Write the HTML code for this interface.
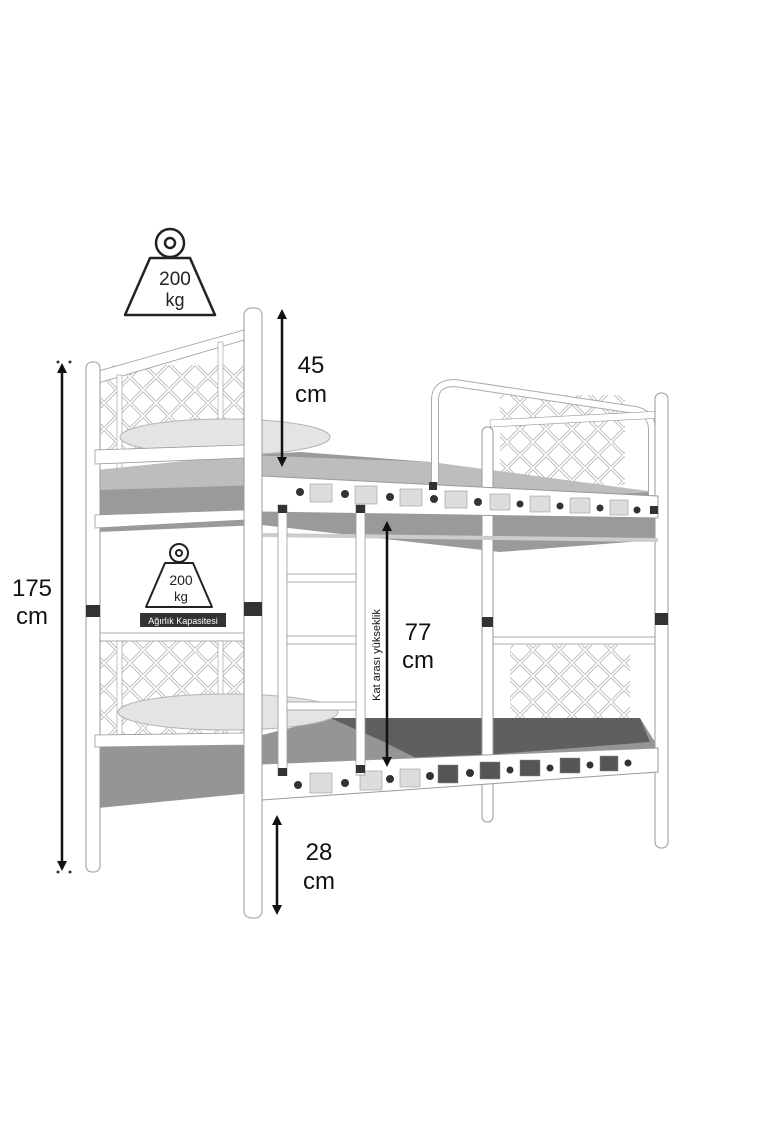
<!DOCTYPE html>
<html><head><meta charset="utf-8"><style>
html,body{margin:0;padding:0;background:#fff;}
svg{display:block;font-family:"Liberation Sans",sans-serif;}
</style></head><body>
<svg width="760" height="1140" viewBox="0 0 760 1140" xmlns="http://www.w3.org/2000/svg">
<defs>
<marker id="ah" markerWidth="10" markerHeight="10" refX="5" refY="5" orient="auto-start-reverse" markerUnits="userSpaceOnUse"><path d="M0,0 L10,5 L0,10 z" fill="#111"/></marker>
<pattern id="lat" width="26" height="26" patternUnits="userSpaceOnUse"><path d="M0,13 L13,0 L26,13 L13,26 z" fill="none" stroke="#aaa" stroke-width="3.2"/><path d="M0,13 L13,0 L26,13 L13,26 z" fill="none" stroke="#fff" stroke-width="1.8"/></pattern>
</defs>

<!-- big weight icon -->
<g fill="none" stroke="#222" stroke-width="2.5">
<circle cx="170" cy="243" r="14"/><circle cx="170" cy="243" r="5"/>
<path d="M150,258 L190,258 L215,315 L125,315 Z" stroke-linejoin="round"/>
</g>
<text x="175" y="285" font-size="19" text-anchor="middle" fill="#222">200</text>
<text x="175" y="306" font-size="18" text-anchor="middle" fill="#222">kg</text>

<!-- left upper headboard -->
<rect x="100" y="365" width="144" height="90" fill="url(#lat)"/>
<polygon points="95,372 244,330 244,340 95,384" fill="#fff" stroke="#999" stroke-width="0.8"/>
<rect x="117" y="375" width="5" height="95" fill="#fff" stroke="#999" stroke-width="0.6"/>
<rect x="218" y="342" width="5" height="105" fill="#fff" stroke="#999" stroke-width="0.6"/>
<!-- left lower headboard -->
<rect x="100" y="640" width="144" height="100" fill="url(#lat)"/>
<rect x="95" y="633" width="150" height="8" fill="#fff" stroke="#999" stroke-width="0.8"/>
<rect x="117" y="641" width="5" height="100" fill="#fff" stroke="#999" stroke-width="0.6"/>
<rect x="218" y="641" width="5" height="100" fill="#fff" stroke="#999" stroke-width="0.6"/>
<!-- right upper headboard -->
<rect x="500" y="395" width="125" height="90" fill="url(#lat)"/>
<!-- right lower headboard -->
<rect x="510" y="645" width="120" height="75" fill="url(#lat)"/>

<!-- upper mattress -->
<polygon points="98,470 244,455 300,452 430,462 655,492 655,540 500,552 262,525 98,532" fill="#9a9a9a"/>
<polygon points="98,470 244,455 430,462 655,492 500,500 262,485 98,490" fill="#bdbdbd"/>
<ellipse cx="225" cy="437" rx="105" ry="18" fill="#e4e4e4" stroke="#b5b5b5"/>
<!-- lower mattress -->
<polygon points="98,740 262,735 330,718 640,718 655,742 655,770 262,792 98,808" fill="#959595"/>
<polygon points="330,718 640,718 650,742 420,760 380,740" fill="#5f5f5f"/>
<ellipse cx="228" cy="712" rx="110" ry="18" fill="#e4e4e4" stroke="#b5b5b5"/>

<!-- right upper headboard frame -->
<path d="M435,482 L435,400 Q435,383 455,383 L635,410 Q652,413 652,430 L652,500" fill="none" stroke="#aaa" stroke-width="8"/>
<path d="M435,482 L435,400 Q435,383 455,383 L635,410 Q652,413 652,430 L652,500" fill="none" stroke="#fff" stroke-width="6"/>
<rect x="490" y="420" width="165" height="7" fill="#fff" stroke="#999" stroke-width="0.6" transform="rotate(-3 490 420)"/>
<rect x="490" y="637" width="167" height="7" fill="#fff" stroke="#999" stroke-width="0.8"/>

<!-- posts -->
<g fill="#fff" stroke="#999" stroke-width="1">
<rect x="86" y="362" width="14" height="510" rx="6"/>
<rect x="482" y="427" width="11" height="395" rx="5"/>
<rect x="655" y="393" width="13" height="455" rx="6"/>
<rect x="244" y="308" width="18" height="610" rx="7"/>
</g>
<g fill="#333"><rect x="86" y="605" width="14" height="12"/><rect x="244" y="602" width="18" height="14"/><rect x="482" y="617" width="11" height="10"/><rect x="655" y="613" width="13" height="12"/></g>

<!-- upper side rail -->
<polygon points="95,450 244,445 244,458 95,464" fill="#fff" stroke="#999" stroke-width="0.8"/>
<polygon points="95,515 244,510 244,520 95,528" fill="#fff" stroke="#999" stroke-width="0.8"/>
<!-- upper front rail -->
<polygon points="262,476 658,496 658,518 262,512" fill="#fff" stroke="#999" stroke-width="1"/>
<g fill="#ddd" stroke="#888" stroke-width="0.5">
<rect x="310" y="484" width="22" height="18"/><rect x="355" y="486" width="22" height="18"/><rect x="400" y="489" width="22" height="17"/><rect x="445" y="491" width="22" height="17"/><rect x="490" y="494" width="20" height="16"/><rect x="530" y="496" width="20" height="16"/><rect x="570" y="498" width="20" height="15"/><rect x="610" y="500" width="18" height="15"/>
</g>
<g fill="#333"><circle cx="300" cy="492" r="4"/><circle cx="345" cy="494" r="4"/><circle cx="390" cy="497" r="4"/><circle cx="434" cy="499" r="4"/><circle cx="478" cy="502" r="4"/><circle cx="520" cy="504" r="3.5"/><circle cx="560" cy="506" r="3.5"/><circle cx="600" cy="508" r="3.5"/><circle cx="637" cy="510" r="3.5"/></g>
<line x1="262" y1="535" x2="658" y2="540" stroke="#ccc" stroke-width="4"/>

<!-- lower side rail -->
<polygon points="95,735 244,733 244,745 95,747" fill="#fff" stroke="#999" stroke-width="0.8"/>
<!-- lower front rail -->
<polygon points="262,764 658,748 658,772 262,800" fill="#fff" stroke="#999" stroke-width="1"/>
<g fill="#555" stroke="#888" stroke-width="0.5">
<rect x="438" y="765" width="20" height="18"/><rect x="480" y="762" width="20" height="17"/><rect x="520" y="760" width="20" height="16"/><rect x="560" y="758" width="20" height="15"/><rect x="600" y="756" width="18" height="15"/>
</g>
<g fill="#ddd" stroke="#888" stroke-width="0.5"><rect x="310" y="773" width="22" height="20"/><rect x="360" y="771" width="22" height="19"/><rect x="400" y="769" width="20" height="18"/></g>
<g fill="#333"><circle cx="298" cy="785" r="4"/><circle cx="345" cy="783" r="4"/><circle cx="390" cy="779" r="4"/><circle cx="430" cy="776" r="4"/><circle cx="470" cy="773" r="4"/><circle cx="510" cy="770" r="3.5"/><circle cx="550" cy="768" r="3.5"/><circle cx="590" cy="765" r="3.5"/><circle cx="628" cy="763" r="3.5"/></g>

<!-- ladder -->
<g fill="#fff" stroke="#999" stroke-width="0.8">
<rect x="278" y="505" width="9" height="270"/><rect x="356" y="505" width="9" height="270"/>
<rect x="287" y="574" width="69" height="8"/><rect x="287" y="636" width="69" height="8"/><rect x="287" y="702" width="69" height="8"/>
</g>
<g fill="#333"><rect x="278" y="505" width="9" height="8"/><rect x="356" y="505" width="9" height="8"/><rect x="278" y="768" width="9" height="8"/><rect x="356" y="765" width="9" height="8"/><rect x="429" y="482" width="8" height="8"/><rect x="650" y="506" width="8" height="8"/></g>

<!-- small weight icon -->
<g fill="none" stroke="#222" stroke-width="2">
<circle cx="179" cy="553" r="9"/><circle cx="179" cy="553" r="3"/>
<path d="M165,563 L193,563 L212,607 L146,607 Z" stroke-linejoin="round"/>
</g>
<text x="181" y="585" font-size="14" text-anchor="middle" fill="#222">200</text>
<text x="181" y="601" font-size="13" text-anchor="middle" fill="#222">kg</text>
<rect x="140" y="613" width="86" height="14" fill="#333"/>
<text x="183" y="624" font-size="9" text-anchor="middle" fill="#fff">Ağırlık Kapasitesi</text>

<!-- dimension arrows -->
<g stroke="#111" stroke-width="2.5">
<line x1="62" y1="368" x2="62" y2="866" marker-start="url(#ah)" marker-end="url(#ah)"/>
<line x1="282" y1="314" x2="282" y2="462" marker-start="url(#ah)" marker-end="url(#ah)"/>
<line x1="387" y1="526" x2="387" y2="762" marker-start="url(#ah)" marker-end="url(#ah)"/>
<line x1="277" y1="820" x2="277" y2="910" marker-start="url(#ah)" marker-end="url(#ah)"/>
</g>
<g fill="#333"><circle cx="58" cy="362" r="1.5"/><circle cx="70" cy="362" r="1.5"/><circle cx="58" cy="872" r="1.5"/><circle cx="70" cy="872" r="1.5"/></g>
<g font-size="24" fill="#111" text-anchor="middle">
<text x="32" y="596">175</text><text x="32" y="624">cm</text>
<text x="311" y="373">45</text><text x="311" y="402">cm</text>
<text x="418" y="640">77</text><text x="418" y="668">cm</text>
<text x="319" y="860">28</text><text x="319" y="889">cm</text>
</g>
<text x="0" y="0" font-size="11" fill="#111" text-anchor="middle" transform="translate(380,655) rotate(-90)">Kat arası yükseklik</text>
</svg>
</body></html>
